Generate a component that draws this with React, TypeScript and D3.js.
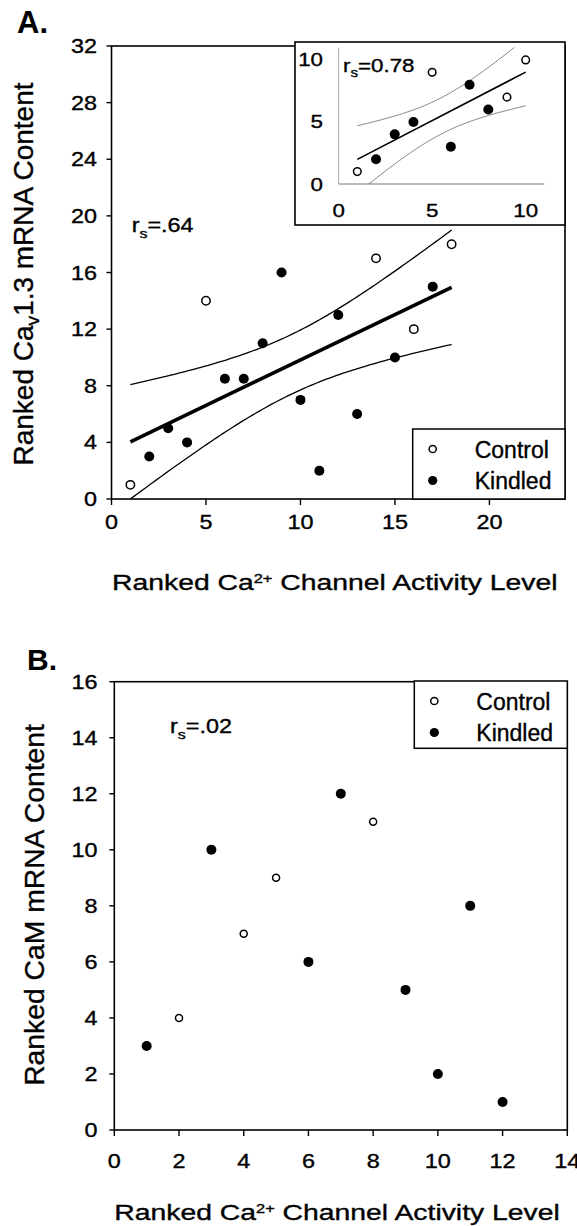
import React, { useEffect, useRef } from 'react';
import * as d3 from 'd3';

// panel A: ranked Ca2+ channel activity (x) vs ranked Cav1.3 mRNA (y)
const controlA: [number, number][] = [[1, 1], [5, 14], [14, 17], [16, 12], [18, 18]];
const kindledA: [number, number][] = [
    [2, 3], [3, 5], [4, 4], [6, 8.5], [7, 8.5], [8, 11], [9, 16],
    [10, 7], [11, 2], [12, 13], [13, 6], [15, 10], [17, 15],
];
// inset of panel A
const controlInset: [number, number][] = [[1, 1], [5, 9], [9, 7], [10, 10]];
const kindledInset: [number, number][] = [[2, 2], [3, 4], [4, 5], [6, 3], [7, 8], [8, 6]];
// panel B: ranked Ca2+ channel activity vs ranked CaM mRNA
const controlB: [number, number][] = [[2, 4], [4, 7], [5, 9], [8, 11]];
const kindledB: [number, number][] = [[1, 3], [3, 10], [6, 6], [7, 12], [9, 5], [10, 2], [11, 8], [12, 1]];

const ticksAx = [0, 5, 10, 15, 20];
const ticksAy = [0, 4, 8, 12, 16, 20, 24, 28, 32];
const ticksInset = [0, 5, 10];
const ticksBx = [0, 2, 4, 6, 8, 10, 12, 14];
const ticksBy = [0, 2, 4, 6, 8, 10, 12, 14, 16];

const rsA = '.64';
const rsInset = '0.78';
const rsB = '.02';
const legendLabels = ['Control', 'Kindled'];

const FONT = 'Arial, "Liberation Sans", Helvetica, sans-serif';
const INK = 0.35; // text stroke, scanned print looks a bit heavy

// least squares fit with 95% confidence band of the mean
const fitBand = (pts: [number, number][], t: number) => {
    const n = pts.length;
    const mx = d3.mean(pts, d => d[0])!;
    const my = d3.mean(pts, d => d[1])!;
    const sxx = d3.sum(pts, d => (d[0] - mx) ** 2);
    const sxy = d3.sum(pts, d => (d[0] - mx) * (d[1] - my));
    const b = sxy / sxx;
    const a = my - b * mx;
    const sse = d3.sum(pts, d => (d[1] - a - b * d[0]) ** 2);
    const s = Math.sqrt(sse / (n - 2));
    const fit = (x: number) => a + b * x;
    const half = (x: number) => t * s * Math.sqrt(1 / n + (x - mx) ** 2 / sxx);
    const [x0, x1] = d3.extent(pts, d => d[0]) as [number, number];
    const xs = d3.range(0, 101).map(i => x0 + (x1 - x0) * i / 100);
    return {
        fit: [x0, x1].map(x => [x, fit(x)] as [number, number]),
        upper: xs.map(x => [x, fit(x) + half(x)] as [number, number]),
        lower: xs.map(x => [x, fit(x) - half(x)] as [number, number]),
    };
};

const App = () => {
    const svgRef = useRef<SVGSVGElement>(null);

    useEffect(() => {
        drawChart();
    }, []);

    const drawChart = () => {
        const svg = d3.select(svgRef.current);
        svg.selectAll('*').remove();

        const text = (g: any, x: number, y: number, size: number, sx: number, anchor = 'start') =>
            g.append('text')
                .attr('transform', `translate(${x},${y}) scale(${sx},1)`)
                .attr('font-family', FONT)
                .attr('font-size', size)
                .attr('text-anchor', anchor)
                .attr('fill', '#000')
                .attr('stroke', '#000')
                .attr('stroke-width', INK);

        const rsLabel = (x: number, y: number, size: number, val: string) => {
            const t = text(svg, x, y, size, 1.2);
            t.append('tspan').text('r');
            t.append('tspan').attr('font-size', size * 0.68).attr('dy', size * 0.3).text('s');
            t.append('tspan').attr('dy', -size * 0.3).text('=' + val);
        };

        const dots = (g: any, pts: [number, number][], x: any, y: any, open: boolean, r: number) => {
            g.append('g')
                .selectAll('circle')
                .data(pts)
                .enter()
                .append('circle')
                .attr('cx', (d: [number, number]) => x(d[0]))
                .attr('cy', (d: [number, number]) => y(d[1]))
                .attr('r', open ? r - 0.8 : r)
                .attr('fill', open ? '#fff' : '#000')
                .attr('stroke', '#000')
                .attr('stroke-width', open ? 1.5 : 0);
        };

        const legend = (x0: number, y0: number, x1: number, y1: number) => {
            svg.append('rect')
                .attr('x', x0).attr('y', y0)
                .attr('width', x1 - x0).attr('height', y1 - y0)
                .attr('fill', '#fff').attr('stroke', '#000').attr('stroke-width', 1.5);
            legendLabels.forEach((lab, i) => {
                const cy = y0 + 20 + i * 31.5;
                svg.append('circle')
                    .attr('cx', x0 + 20).attr('cy', cy)
                    .attr('r', i === 0 ? 3.6 : 4.6)
                    .attr('fill', i === 0 ? '#fff' : '#000')
                    .attr('stroke', '#000').attr('stroke-width', i === 0 ? 1.5 : 0);
                text(svg, x0 + 62, cy + 8.5, 23, 1).text(lab);
            });
        };

        // ---------------- panel A ----------------
        const xA = d3.scaleLinear().domain([0, 24]).range([111.5, 565]);
        const yA = d3.scaleLinear().domain([0, 32]).range([499, 46]);

        svg.append('clipPath').attr('id', 'clipA')
            .append('rect').attr('x', xA(0)).attr('y', yA(32))
            .attr('width', xA(24) - xA(0)).attr('height', yA(0) - yA(32));

        const bandA = fitBand([...controlA, ...kindledA], 2.12);
        const lineA = d3.line<[number, number]>().x(d => xA(d[0])).y(d => yA(d[1]));
        const gA = svg.append('g').attr('clip-path', 'url(#clipA)');
        gA.append('path').attr('d', lineA(bandA.upper)).attr('fill', 'none').attr('stroke', '#000').attr('stroke-width', 1.3);
        gA.append('path').attr('d', lineA(bandA.lower)).attr('fill', 'none').attr('stroke', '#000').attr('stroke-width', 1.3);
        gA.append('path').attr('d', lineA(bandA.fit)).attr('fill', 'none').attr('stroke', '#000').attr('stroke-width', 3.6);

        dots(svg, controlA, xA, yA, true, 5);
        dots(svg, kindledA, xA, yA, false, 5);

        svg.append('rect')
            .attr('x', xA(0)).attr('y', yA(32))
            .attr('width', xA(24) - xA(0)).attr('height', yA(0) - yA(32))
            .attr('fill', 'none').attr('stroke', '#000').attr('stroke-width', 1.6);

        ticksAy.forEach(v => {
            svg.append('line').attr('x1', xA(0) - 5).attr('x2', xA(0)).attr('y1', yA(v)).attr('y2', yA(v))
                .attr('stroke', '#000').attr('stroke-width', 1.4);
            text(svg, 97, yA(v) + 7, 19.5, 1.2, 'end').text(v);
        });
        ticksAx.forEach(v => {
            svg.append('line').attr('x1', xA(v)).attr('x2', xA(v)).attr('y1', yA(0)).attr('y2', yA(0) + 6)
                .attr('stroke', '#000').attr('stroke-width', 1.4);
            text(svg, xA(v), 529, 19.5, 1.2, 'middle').text(v);
        });

        const titleAx = text(svg, 112, 590, 22.5, 1.26);
        titleAx.append('tspan').text('Ranked Ca');
        titleAx.append('tspan').attr('font-size', 13).attr('dy', -7).text('2+');
        titleAx.append('tspan').attr('dy', 7).text(' Channel Activity Level');

        const titleAy = svg.append('text')
            .attr('transform', `translate(33,274) rotate(-90)`)
            .attr('font-family', FONT).attr('font-size', 28).attr('text-anchor', 'middle')
            .attr('stroke', '#000').attr('stroke-width', INK);
        titleAy.append('tspan').text('Ranked Ca');
        titleAy.append('tspan').attr('font-size', 19).attr('dy', 6).text('v');
        titleAy.append('tspan').attr('dy', -6).text('1.3 mRNA Content');

        rsLabel(131.7, 232, 19.5, rsA);

        svg.append('text').attr('x', 17).attr('y', 33)
            .attr('font-family', FONT).attr('font-size', 31).attr('font-weight', 'bold').text('A.');

        legend(412.7, 429, 565, 499);

        // ---------------- inset ----------------
        svg.append('rect')
            .attr('x', 295).attr('y', 42).attr('width', 565 - 295).attr('height', 225 - 42)
            .attr('fill', '#fff').attr('stroke', '#000').attr('stroke-width', 1.6);

        const xI = d3.scaleLinear().domain([0, 11]).range([338.6, 544.4]);
        const yI = d3.scaleLinear().domain([0, 11]).range([184, 47.5]);

        svg.append('clipPath').attr('id', 'clipI')
            .append('rect').attr('x', xI(0)).attr('y', yI(11))
            .attr('width', xI(11) - xI(0)).attr('height', yI(0) - yI(11));

        svg.append('line').attr('x1', xI(0)).attr('x2', xI(11)).attr('y1', yI(0)).attr('y2', yI(0))
            .attr('stroke', '#777').attr('stroke-width', 1);
        svg.append('line').attr('x1', xI(0)).attr('x2', xI(0)).attr('y1', yI(0)).attr('y2', yI(11))
            .attr('stroke', '#999').attr('stroke-width', 0.8);

        const bandI = fitBand([...controlInset, ...kindledInset], 2.306);
        const lineI = d3.line<[number, number]>().x(d => xI(d[0])).y(d => yI(d[1]));
        const gI = svg.append('g').attr('clip-path', 'url(#clipI)');
        gI.append('path').attr('d', lineI(bandI.upper)).attr('fill', 'none').attr('stroke', '#666').attr('stroke-width', 0.8);
        gI.append('path').attr('d', lineI(bandI.lower)).attr('fill', 'none').attr('stroke', '#666').attr('stroke-width', 0.8);
        gI.append('path').attr('d', lineI(bandI.fit)).attr('fill', 'none').attr('stroke', '#000').attr('stroke-width', 1.6);

        dots(svg, controlInset, xI, yI, true, 4.6);
        dots(svg, kindledInset, xI, yI, false, 5);

        ticksInset.forEach(v => {
            text(svg, 323, yI(v) + 6.5, 18.6, 1.2, 'end').text(v);
            text(svg, xI(v), 217, 18.6, 1.2, 'middle').text(v);
        });
        rsLabel(343, 71.7, 18.6, rsInset);

        // ---------------- panel B ----------------
        const xB = d3.scaleLinear().domain([0, 14]).range([114.3, 567.3]);
        const yB = d3.scaleLinear().domain([0, 16]).range([1130, 681.7]);

        dots(svg, controlB, xB, yB, true, 4.3);
        dots(svg, kindledB, xB, yB, false, 5);

        svg.append('rect')
            .attr('x', xB(0)).attr('y', yB(16))
            .attr('width', xB(14) - xB(0)).attr('height', yB(0) - yB(16))
            .attr('fill', 'none').attr('stroke', '#000').attr('stroke-width', 1.6);

        ticksBy.forEach(v => {
            svg.append('line').attr('x1', xB(0) - 5).attr('x2', xB(0)).attr('y1', yB(v)).attr('y2', yB(v))
                .attr('stroke', '#000').attr('stroke-width', 1.4);
            text(svg, 97.5, yB(v) + 7, 19.5, 1.2, 'end').text(v);
        });
        ticksBx.forEach(v => {
            svg.append('line').attr('x1', xB(v)).attr('x2', xB(v)).attr('y1', yB(0)).attr('y2', yB(0) + 6)
                .attr('stroke', '#000').attr('stroke-width', 1.4);
            text(svg, xB(v), 1168, 19.5, 1.2, 'middle').text(v);
        });

        const titleBx = text(svg, 114.3, 1220, 22.5, 1.26);
        titleBx.append('tspan').text('Ranked Ca');
        titleBx.append('tspan').attr('font-size', 13).attr('dy', -7).text('2+');
        titleBx.append('tspan').attr('dy', 7).text(' Channel Activity Level');

        svg.append('text')
            .attr('transform', `translate(43.5,905) rotate(-90)`)
            .attr('font-family', FONT).attr('font-size', 28.3).attr('text-anchor', 'middle')
            .attr('stroke', '#000').attr('stroke-width', INK)
            .text('Ranked CaM mRNA Content');

        rsLabel(170, 733.3, 19.5, rsB);

        svg.append('text').attr('x', 27).attr('y', 670)
            .attr('font-family', FONT).attr('font-size', 30).attr('font-weight', 'bold').text('B.');

        legend(414.3, 681, 567.3, 748.3);
    };

    return (
        <svg
            ref={svgRef}
            width={577}
            height={1226}
            style={{ position: 'absolute', left: 0, top: 0, background: '#fff' }}
        ></svg>
    );
};

export default App;
